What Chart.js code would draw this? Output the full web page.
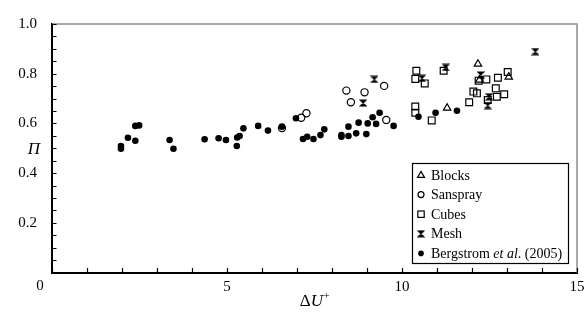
<!DOCTYPE html>
<html>
<head>
<meta charset="utf-8">
<script src="https://cdn.jsdelivr.net/npm/chart.js@4.4.1/dist/chart.umd.min.js"></script>
<style>
  html, body { margin: 0; padding: 0; background: #fff; }
  #wrap { width: 585px; height: 316px; }
</style>
</head>
<body>
<div id="wrap"><canvas id="c"></canvas></div>
<script>
// values (ΔU+ , Π)
const blocksDU = [12.17, 12.21, 13.05, 11.29];
const blocksPi = [0.839, 0.775, 0.787, 0.662];

const sansDU = [6.57, 7.12, 7.27, 8.41, 8.54, 8.93, 9.49, 9.55];
const sansPi = [0.581, 0.623, 0.641, 0.732, 0.685, 0.725, 0.751, 0.614];

const cubesDU = [10.41, 10.38, 10.65, 11.19, 12.19, 12.41, 12.74, 13.02, 12.04, 12.14, 11.92, 12.68, 12.71, 12.92, 12.45, 10.38, 10.38, 10.85];
const cubesPi = [0.812, 0.779, 0.761, 0.812, 0.772, 0.777, 0.784, 0.807, 0.728, 0.721, 0.685, 0.741, 0.707, 0.717, 0.694, 0.668, 0.643, 0.612];

const meshDU = [8.89, 9.21, 10.57, 11.25, 12.25, 12.49, 12.45, 13.81];
const meshPi = [0.682, 0.777, 0.781, 0.825, 0.795, 0.707, 0.672, 0.889];

const bergDU = [1.97, 1.97, 2.17, 2.38, 2.38, 2.49, 3.36, 3.47, 4.36, 4.76, 4.97, 5.28, 5.29, 5.36, 5.47, 5.89, 6.17, 6.57, 6.97, 7.17, 7.29, 7.47, 7.67, 7.78, 8.27, 8.27, 8.47, 8.47, 8.69, 8.76, 8.98, 9.02, 9.16, 9.36, 9.26, 9.76, 10.47, 10.96, 11.57];
const bergPi = [0.509, 0.498, 0.542, 0.530, 0.590, 0.592, 0.533, 0.498, 0.536, 0.540, 0.533, 0.509, 0.543, 0.549, 0.580, 0.590, 0.571, 0.587, 0.621, 0.537, 0.546, 0.537, 0.553, 0.576, 0.553, 0.546, 0.587, 0.549, 0.560, 0.603, 0.557, 0.600, 0.625, 0.643, 0.598, 0.590, 0.627, 0.643, 0.651];

const xTickLabels = ['0', '5', '10', '15'];
const yTickLabels = ['0.2', '0.4', '0.6', '0.8', '1.0'];

const SERIF = '"Liberation Serif", "Times New Roman", serif';

const pts = (xs, ys) => xs.map((x, i) => ({x: x, y: ys[i]}));

// hourglass marker for "Mesh"
function meshMarker(s) {
  const c = document.createElement('canvas');
  c.width = s; c.height = s;
  const g = c.getContext('2d');
  g.fillStyle = '#000';
  g.strokeStyle = '#000';
  g.lineWidth = 1.2;
  g.beginPath();
  g.moveTo(1, 1); g.lineTo(s - 1, 1); g.lineTo(1, s - 1); g.lineTo(s - 1, s - 1);
  g.closePath();
  g.fill(); g.stroke();
  return c;
}
const meshImg = meshMarker(8);

const frame = {
  id: 'frame',
  afterDraw(chart) {
    const {ctx, chartArea: a, scales: {x, y}} = chart;
    ctx.save();
    // thin grey top and right edges
    ctx.strokeStyle = '#8c8c8c';
    ctx.lineWidth = 1.5;
    ctx.beginPath();
    ctx.moveTo(a.left, a.top); ctx.lineTo(a.right, a.top); ctx.lineTo(a.right, a.bottom);
    ctx.stroke();

    // inward tick marks
    ctx.strokeStyle = '#000';
    ctx.lineWidth = 1.2;
    ctx.beginPath();
    x.ticks.forEach(t => {
      const px = Math.round(x.getPixelForValue(t.value)) + 0.5;
      ctx.moveTo(px, a.bottom); ctx.lineTo(px, a.bottom - 4.5);
    });
    y.ticks.forEach(t => {
      const py = Math.round(y.getPixelForValue(t.value)) + 0.5;
      ctx.moveTo(a.left, py); ctx.lineTo(a.left + 4.5, py);
    });
    ctx.stroke();

    // the "0" of the x axis sits left of the corner
    ctx.fillStyle = '#000';
    ctx.textAlign = 'center';
    ctx.textBaseline = 'top';
    ctx.font = '15px ' + SERIF;
    ctx.fillText(xTickLabels[0], 40, a.bottom + 6);

    // axis titles
    ctx.textBaseline = 'middle';
    ctx.font = 'italic 17px ' + SERIF;
    ctx.fillText('\u03A0', 34, 150);

    ctx.textAlign = 'left';
    const cx = (a.left + a.right) / 2, ty = 302;
    ctx.font = '17px ' + SERIF;
    const wD = ctx.measureText('\u0394').width;
    ctx.font = 'italic 17px ' + SERIF;
    const wU = ctx.measureText('U').width;
    ctx.font = '11px ' + SERIF;
    const wP = ctx.measureText('+').width;
    let sx = cx - (wD + wU + wP) / 2;
    ctx.font = '17px ' + SERIF;
    ctx.fillText('\u0394', sx, ty); sx += wD;
    ctx.font = 'italic 17px ' + SERIF;
    ctx.fillText('U', sx, ty); sx += wU + 0.5;
    ctx.font = '11px ' + SERIF;
    ctx.fillText('+', sx, ty - 6);

    // legend box
    const L = 412, R = 568, T = 163, B = 263;
    ctx.fillStyle = '#fff';
    ctx.fillRect(L, T, R - L, B - T);
    ctx.strokeStyle = '#000';
    ctx.lineWidth = 1.2;
    ctx.strokeRect(L + 0.5, T + 0.5, R - L, B - T);

    ctx.fillStyle = '#000';
    const mx = 421, tx = 431, row0 = 175, dy = 19.6;
    ctx.lineWidth = 1.2;
    // triangle
    let yy = row0;
    ctx.beginPath();
    ctx.moveTo(mx, yy - 3.6); ctx.lineTo(mx + 3.5, yy + 2.4); ctx.lineTo(mx - 3.5, yy + 2.4); ctx.closePath();
    ctx.stroke();
    // circle
    yy = row0 + dy;
    ctx.beginPath(); ctx.arc(mx, yy, 3, 0, Math.PI * 2); ctx.stroke();
    // square
    yy = row0 + 2 * dy;
    ctx.strokeRect(mx - 3.2, yy - 3.2, 6.4, 6.4);
    // mesh
    yy = row0 + 3 * dy;
    ctx.drawImage(meshImg, mx - 4, yy - 4);
    // dot
    yy = row0 + 4 * dy;
    ctx.beginPath(); ctx.arc(mx, yy, 2.8, 0, Math.PI * 2); ctx.fill();

    ctx.textAlign = 'left';
    ctx.textBaseline = 'middle';
    ctx.font = '14px ' + SERIF;
    ['Blocks', 'Sanspray', 'Cubes', 'Mesh'].forEach((s, i) => ctx.fillText(s, tx, row0 + i * dy + 1));
    yy = row0 + 4 * dy + 1;
    let px = tx;
    const parts = [['Bergstrom ', ''], ['et al', 'italic '], ['. (2005)', '']];
    parts.forEach(([s, st]) => {
      ctx.font = st + '14px ' + SERIF;
      ctx.fillText(s, px, yy);
      px += ctx.measureText(s).width;
    });
    ctx.restore();
  }
};

new Chart(document.getElementById('c'), {
  type: 'scatter',
  data: {
    datasets: [
      {label: 'Bergstrom et al. (2005)', data: pts(bergDU, bergPi), pointStyle: 'circle', pointRadius: 3.3,
       backgroundColor: '#000', borderColor: '#000', borderWidth: 0},
      {label: 'Blocks', data: pts(blocksDU, blocksPi), pointStyle: 'triangle', pointRadius: 4.3,
       backgroundColor: 'rgba(0,0,0,0)', borderColor: '#000', borderWidth: 1.2},
      {label: 'Sanspray', data: pts(sansDU, sansPi), pointStyle: 'circle', pointRadius: 3.6,
       backgroundColor: 'rgba(0,0,0,0)', borderColor: '#000', borderWidth: 1.2},
      {label: 'Cubes', data: pts(cubesDU, cubesPi), pointStyle: 'rect', pointRadius: 4.8,
       backgroundColor: 'rgba(0,0,0,0)', borderColor: '#000', borderWidth: 1.2},
      {label: 'Mesh', data: pts(meshDU, meshPi), pointStyle: meshImg, pointRadius: 4,
       backgroundColor: '#000', borderColor: '#000'}
    ]
  },
  options: {
    responsive: true,
    maintainAspectRatio: false,
    animation: false,
    events: [],
    layout: {padding: {left: 0, right: 8, top: 24, bottom: 0}},
    plugins: {legend: {display: false}, tooltip: {enabled: false}},
    scales: {
      x: {
        type: 'linear', min: 0, max: 15,
        grid: {display: false},
        border: {display: true, color: '#000', width: 2},
        ticks: {
          stepSize: 1, autoSkip: false, maxRotation: 0, padding: -2, color: '#000',
          font: {family: SERIF, size: 15},
          callback: v => (v !== 0 && xTickLabels.includes(String(v))) ? String(v) : ''
        },
        afterFit: s => { s.height = 43.5; }
      },
      y: {
        type: 'linear', min: 0, max: 1,
        grid: {display: false},
        border: {display: true, color: '#000', width: 2},
        ticks: {
          stepSize: 0.05, autoSkip: false, padding: 7, color: '#000',
          font: {family: SERIF, size: 15},
          callback: v => { const s = (Math.round(v * 100) / 100).toFixed(1); return (Math.round(v * 100) % 20 === 0 && yTickLabels.includes(s)) ? s : ''; }
        },
        afterFit: s => { s.width = 52; }
      }
    }
  },
  plugins: [frame]
});
</script>
</body>
</html>
